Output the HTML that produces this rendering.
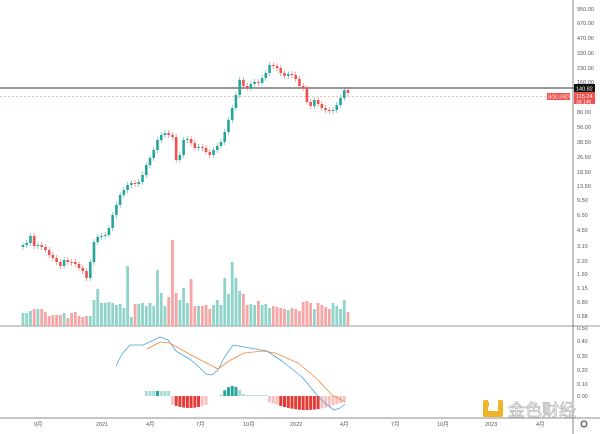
<!DOCTYPE html><html><head><meta charset="utf-8"><style>
body{margin:0;background:#fff;}
svg{display:block;font-family:"Liberation Sans","Noto Sans CJK SC",sans-serif;}
</style></head><body>
<svg id="s" width="600" height="434" viewBox="0 0 600 434">
<g font-size="5.5" fill="#555">
<text x="577" y="11">950.00</text><text x="577" y="25">670.00</text><text x="577" y="40">470.00</text><text x="577" y="55">330.00</text><text x="577" y="70">230.00</text><text x="577" y="84">160.00</text><text x="577" y="114">80.00</text><text x="577" y="129">56.00</text><text x="577" y="144">38.50</text><text x="577" y="159">26.50</text><text x="577" y="174">18.50</text><text x="577" y="188">13.50</text><text x="577" y="202">9.50</text><text x="577" y="217">6.50</text><text x="577" y="232">4.50</text><text x="577" y="248">3.10</text><text x="577" y="263">2.20</text><text x="577" y="276">1.60</text><text x="577" y="290">1.15</text><text x="577" y="304">0.80</text><text x="577" y="318">0.58</text>
<text x="577" y="330">0.50</text><text x="577" y="343">0.40</text><text x="577" y="358">0.30</text><text x="577" y="372">0.20</text><text x="577" y="386">0.10</text><text x="577" y="398">0.00</text>
<text x="34" y="426">9月</text><text x="96" y="426">2021</text><text x="146" y="426">4月</text><text x="196" y="426">7月</text><text x="243" y="426">10月</text><text x="290" y="426">2022</text><text x="340" y="426">4月</text><text x="391" y="426">7月</text><text x="437" y="426">10月</text><text x="485" y="426">2023</text><text x="536" y="426">4月</text>
</g>
<line x1="0" y1="88" x2="574" y2="88" stroke="#333" stroke-width="1"/>
<line x1="0" y1="96.5" x2="547" y2="96.5" stroke="#f08080" stroke-width="0.6" stroke-dasharray="2,2"/>
<line x1="0" y1="326" x2="600" y2="326" stroke="#999" stroke-width="1"/>
<line x1="0" y1="418" x2="600" y2="418" stroke="#666" stroke-width="0.8"/>
<line x1="573" y1="0" x2="573" y2="434" stroke="#666" stroke-width="0.8"/>
<rect x="574" y="84" width="21" height="8" fill="#111"/><text x="576" y="90.5" font-size="5.5" fill="#fff">140.82</text>
<rect x="574" y="92" width="21" height="12" fill="#ef5350"/><text x="576" y="98" font-size="5.5" fill="#fff">115.24</text><text x="576" y="103.5" font-size="5" fill="#fff">3d 14h</text>
<rect x="547" y="93" width="23" height="7" fill="#ef5350"/><text x="548" y="98.5" font-size="5" fill="#fff">SOLUSDT</text>
<g id="c"></g>
<polyline fill="none" stroke="#4aa3e0" stroke-width="0.8" stroke-linejoin="round" points="116,366 122,354 130,345 143,345 152,341 160,337 168,340 176,351 191,360 200,368 206,374 212,375 218,370 224,358 233,345 244,347 267,351 282,361 302,377 317,395 326,404 334,410 340,408 345,404"/>
<polyline fill="none" stroke="#f08a3a" stroke-width="0.8" stroke-linejoin="round" points="147,349 160,342 170,343 191,355 218,369 229,361 244,353 263,351 275,353 298,363 317,379 332,395 345,402"/>
<rect x="483" y="400" width="20" height="17" rx="2" fill="#f0b429"/><rect x="488" y="400" width="10" height="11" fill="#fff"/><rect x="484" y="402" width="5" height="5" fill="#f0b429"/>
<text x="508" y="416" font-size="17" fill="#fff" stroke="#bbb" stroke-width="0.8">金色财经</text>
<circle cx="584" cy="424" r="3" fill="none" stroke="#333" stroke-width="1"/>
</svg>
<script>
var C=[245,243,236,246,245,247,250,255,258,262,266,260,262,262,264,268,271,278,262,242,237,236,235,228,215,205,195,190,185,183,184,182,175,165,158,150,140,135,133,135,137,160,155,140,139,143,148,147,148,152,155,150,146,142,132,120,108,95,80,86,88,84,82,83,78,73,65,66,68,73,76,74,75,79,86,88,102,106,100,104,108,110,111,110,105,98,90,93];
var V=[313,313,311,309,309,309,312,316,315,315,315,313,318,313,312,316,317,316,316,300,289,303,303,302,303,305,304,308,266,317,304,304,303,306,303,306,270,293,306,297,240,293,300,288,303,279,306,306,306,305,309,305,300,305,278,294,262,278,291,294,305,304,305,301,305,304,308,306,307,308,309,310,308,309,311,302,301,303,309,303,305,307,309,303,306,309,300,312];
var n=C.length,x0=23,x1=348,st=(x1-x0)/(n-1),h='';
for(var i=0;i<n;i++){var x=x0+i*st,o=i?C[i-1]:247,c=C[i],up=c<o,col=up?'#26a69a':'#ef5350',t=Math.min(o,c),b=Math.max(o,c);
if(b-t<1)b=t+1;
h+='<line x1="'+x+'" x2="'+x+'" y1="'+(t-3)+'" y2="'+(b+3)+'" stroke="'+col+'" stroke-width="0.5"/>';
h+='<rect x="'+(x-1.3)+'" y="'+t+'" width="2.6" height="'+(b-t)+'" fill="'+col+'"/>';
h+='<rect x="'+(x-1.4)+'" y="'+V[i]+'" width="2.8" height="'+(326-V[i])+'" fill="'+(up?'#8fd3c9':'#f6a5a5')+'"/>';
var mh=0;
if(x>144&&x<169)mh=-5;else if(x>170&&x<209)mh=8+Math.sin((x-170)/39*3.14)*4;else if(x>220&&x<245)mh=-10*Math.sin((x-220)/25*3.14);else if(x>245&&x<266)mh=-1;else if(x>266&&x<346)mh=5+Math.sin((x-266)/80*3.14)*9;
if(mh){var cc=mh<0?(x>155&&x<159||x>224&&x<236?'#26a69a':'#a8dcd4'):(x<200&&x>173||x>280&&x<320?'#e53935':'#f8c0c0');
h+='<rect x="'+(x-1.5)+'" y="'+(mh<0?396+mh:396)+'" width="3" height="'+Math.abs(mh)+'" fill="'+cc+'"/>';}}
document.getElementById('c').innerHTML=h;
</script>
</body></html>
